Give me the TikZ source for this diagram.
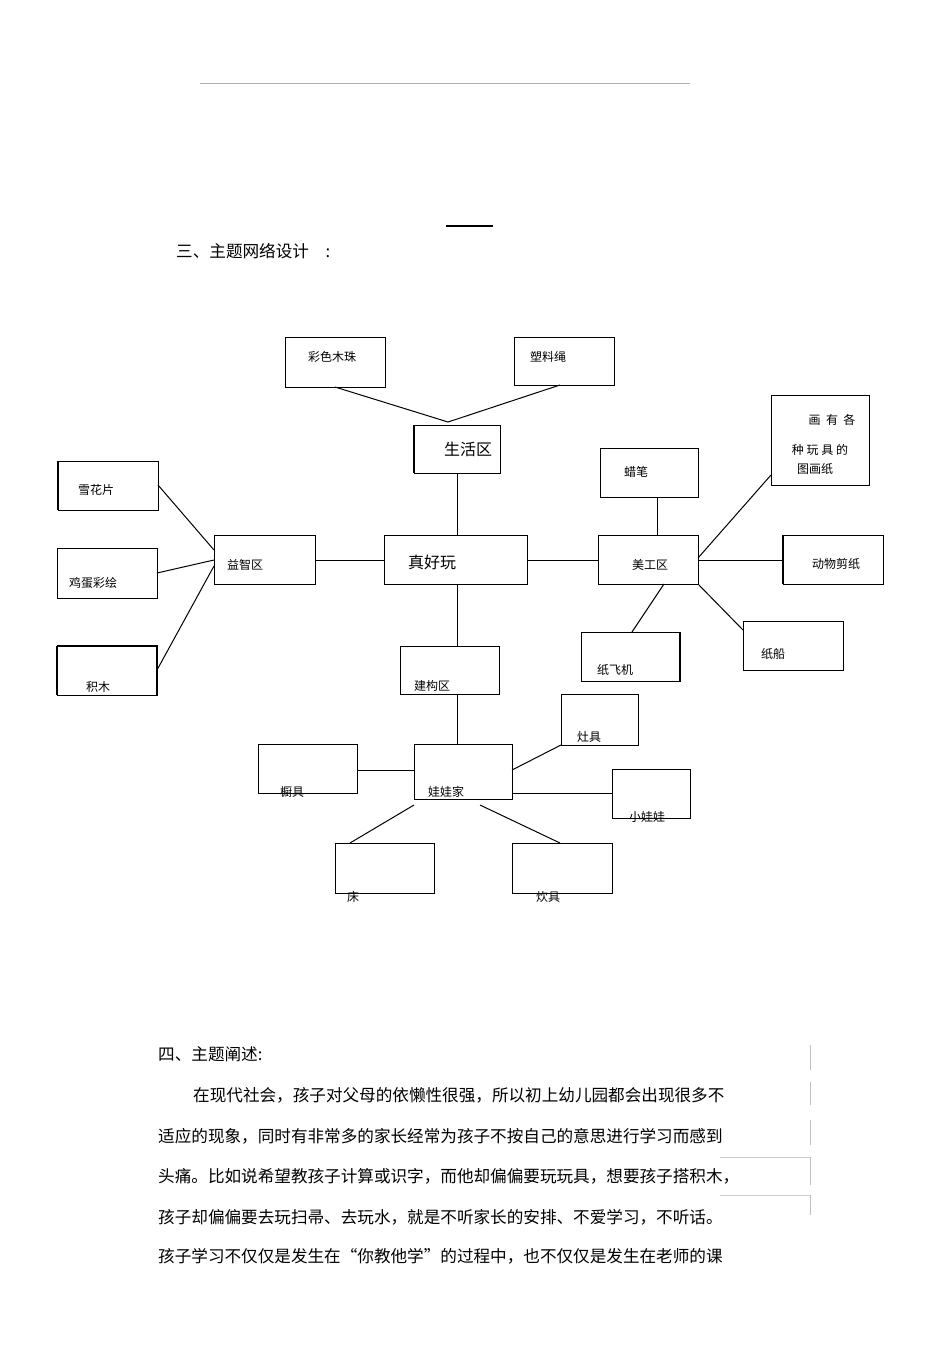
\documentclass[tikz,border=0pt]{standalone}
\usepackage{fontspec}
\setmainfont{Noto Sans CJK SC}
\begin{document}
\begin{tikzpicture}[x=1pt,y=-1pt,
 bx/.style={draw,line width=1pt},
 ln/.style={line width=1pt},
 lb/.style={font=\fontsize{12}{14}\selectfont,inner sep=0pt},
 big/.style={font=\fontsize{16}{18}\selectfont,inner sep=0pt},
 para/.style={font=\fontsize{16.6}{18}\selectfont,inner sep=0pt,anchor=west}]
\useasboundingbox (0,0) rectangle (950,1345);
\draw[gray!60,line width=0.6pt] (200,83) -- (690,83);
\draw[line width=1.2pt] (446,226) -- (493,226);
\node[para] (h1) at (176,251) {三、主题网络设计\quad :};
\draw[bx] (285,337) rectangle (385,387);
\node[lb] (a1) at (332,357) {彩色木珠};
\draw[bx] (514,337) rectangle (614,385);
\node[lb] (a2) at (548,357) {塑料绳};
\draw[bx] (414,425) rectangle (500,473);
\draw[line width=2pt] (414,425) -- (414,473);
\node[big] (shq) at (468,449) {生活区};
\draw[bx] (58,461) rectangle (158,510);
\draw[line width=2pt] (58,461) -- (58,510);
\node[lb] (x1) at (96,490) {雪花片};
\draw[bx] (57,548) rectangle (157,598);
\node[lb] (x2) at (93,583) {鸡蛋彩绘};
\draw[bx] (57,646) rectangle (157,695);
\draw[line width=2pt] (57,646) -- (57,695) (57,646) -- (157,646) -- (157,695);
\node[lb] (x3) at (98,687) {积木};
\draw[bx] (214,535) rectangle (315,584);
\node[lb] (yz) at (245,565) {益智区};
\draw[bx] (384,535) rectangle (527,584);
\node[big] (zh) at (432,562) {真好玩};
\draw[bx] (598,535) rectangle (698,584);
\node[lb] (mg) at (650,565) {美工区};
\draw[bx] (600,448) rectangle (698,497);
\node[lb] (lb1) at (636,472) {蜡笔};
\draw[bx] (771,395) rectangle (869,485);
\node[lb] (hy1) at (832,420) {画\ \ 有\ \ 各};
\node[lb] (hy2) at (820,450) {种\ 玩\ 具\ 的};
\node[lb] (hy3) at (815,469) {图画纸};
\draw[bx] (783,535) rectangle (883,584);
\draw[line width=2pt] (783,535) -- (783,584);
\node[lb] (dw) at (836,564) {动物剪纸};
\draw[bx] (743,621) rectangle (843,670);
\node[lb] (zc) at (773,654) {纸船};
\draw[bx] (581,632) rectangle (680,681);
\draw[line width=2pt] (680,632) -- (680,681);
\node[lb] (zf) at (615,670) {纸飞机};
\draw[bx] (400,646) rectangle (499,694);
\node[lb] (jg) at (432,686) {建构区};
\draw[bx] (561,694) rectangle (638,745);
\node[lb] (zj) at (589,737) {灶具};
\draw[bx] (258,744) rectangle (357,793);
\node[lb] (cj) at (292,792) {橱具};
\draw[bx] (414,744) rectangle (512,799);
\node[lb] (ww) at (446,792) {娃娃家};
\draw[bx] (612,769) rectangle (690,818);
\node[lb] (xw) at (647,817) {小娃娃};
\draw[bx] (335,843) rectangle (434,893);
\node[lb] (ch) at (353,897) {床};
\draw[bx] (512,843) rectangle (612,893);
\node[lb] (cu) at (548,897) {炊具};
\draw[ln] (335,387) -- (448,422) -- (560,385);
\draw[ln] (457,473) -- (457,535);
\draw[ln] (315,560) -- (384,560);
\draw[ln] (527,560) -- (598,560);
\draw[ln] (158,485) -- (214,550);
\draw[ln] (157,573) -- (214,560);
\draw[ln] (157,670) -- (214,566);
\draw[ln] (457,584) -- (457,646);
\draw[ln] (457,694) -- (457,744);
\draw[ln] (657,497) -- (657,535);
\draw[ln] (698,558) -- (771,475);
\draw[ln] (698,560) -- (783,560);
\draw[ln] (698,584) -- (743,630);
\draw[ln] (664,584) -- (632,632);
\draw[ln] (357,770) -- (414,770);
\draw[ln] (512,770) -- (561,745);
\draw[ln] (512,793) -- (612,793);
\draw[ln] (414,805) -- (350,843);
\draw[ln] (480,805) -- (560,843);
\node[para] (p0) at (158,1054) {四、主题阐述:};
\node[para] (p1) at (193,1095) {在现代社会，孩子对父母的依懒性很强，所以初上幼儿园都会出现很多不};
\node[para] (p2) at (158,1136) {适应的现象，同时有非常多的家长经常为孩子不按自己的意思进行学习而感到};
\node[para] (p3) at (158,1176) {头痛。比如说希望教孩子计算或识字，而他却偏偏要玩玩具，想要孩子搭积木，};
\node[para] (p4) at (158,1217) {孩子却偏偏要去玩扫帚、去玩水，就是不听家长的安排、不爱学习，不听话。};
\node[para] (p5) at (158,1256) {孩子学习不仅仅是发生在“你教他学”的过程中，也不仅仅是发生在老师的课};
\draw[gray!50,line width=1pt] (810,1045) -- (810,1070) (810,1082) -- (810,1105) (810,1120) -- (810,1145) (810,1157) -- (810,1185) (810,1195) -- (810,1215);
\draw[gray!40,line width=0.6pt] (720,1157) -- (810,1157) (720,1195) -- (810,1195);
\end{tikzpicture}
\end{document}
